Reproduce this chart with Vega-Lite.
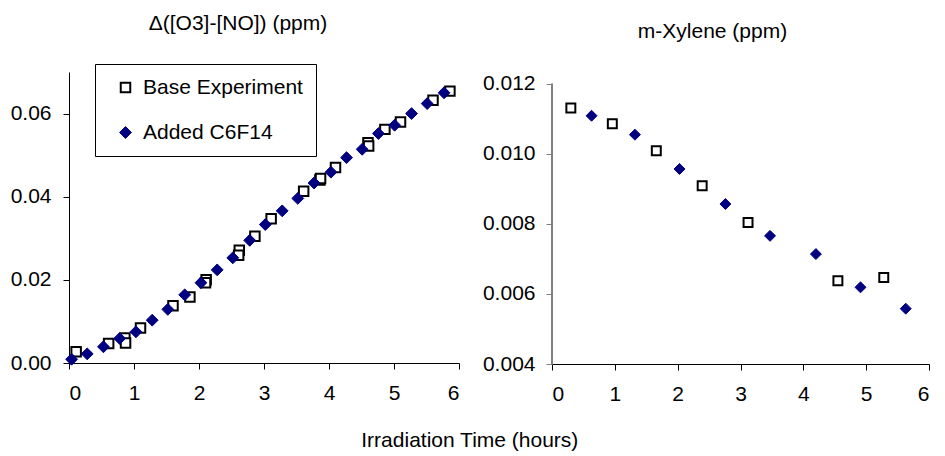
{
  "$schema": "https://vega.github.io/schema/vega-lite/v6.json",
  "padding": {"left": 10, "top": 12, "right": 4, "bottom": 4},
  "background": "white",
  "config": {
    "font": "Liberation Sans",
    "view": {"stroke": null},
    "axis": {"grid": false, "labelFontSize": 21, "labelColor": "black", "labelFont": "Liberation Sans", "tickColor": "black", "domainColor": "black", "tickSize": 6, "title": null},
    "title": {"font": "Liberation Sans", "fontWeight": "normal", "fontSize": 21, "color": "black"}
  },
  "title": {"text": "Irradiation Time (hours)", "orient": "bottom", "anchor": "middle", "offset": 26},
  "datasets": {
    "ozone": [
      {"time": 0.11, "value": 0.0027, "series": "Base Experiment"},
      {"time": 0.61, "value": 0.0047, "series": "Base Experiment"},
      {"time": 0.86, "value": 0.0060, "series": "Base Experiment"},
      {"time": 0.87, "value": 0.0048, "series": "Base Experiment"},
      {"time": 1.10, "value": 0.0084, "series": "Base Experiment"},
      {"time": 1.60, "value": 0.0138, "series": "Base Experiment"},
      {"time": 1.86, "value": 0.0159, "series": "Base Experiment"},
      {"time": 2.11, "value": 0.0200, "series": "Base Experiment"},
      {"time": 2.10, "value": 0.0193, "series": "Base Experiment"},
      {"time": 2.62, "value": 0.0271, "series": "Base Experiment"},
      {"time": 2.61, "value": 0.0259, "series": "Base Experiment"},
      {"time": 2.86, "value": 0.0305, "series": "Base Experiment"},
      {"time": 3.11, "value": 0.0347, "series": "Base Experiment"},
      {"time": 3.61, "value": 0.0413, "series": "Base Experiment"},
      {"time": 3.86, "value": 0.0440, "series": "Base Experiment"},
      {"time": 3.87, "value": 0.0444, "series": "Base Experiment"},
      {"time": 4.10, "value": 0.0470, "series": "Base Experiment"},
      {"time": 4.60, "value": 0.0530, "series": "Base Experiment"},
      {"time": 4.61, "value": 0.0522, "series": "Base Experiment"},
      {"time": 4.86, "value": 0.0562, "series": "Base Experiment"},
      {"time": 5.10, "value": 0.0580, "series": "Base Experiment"},
      {"time": 5.60, "value": 0.0632, "series": "Base Experiment"},
      {"time": 5.86, "value": 0.0654, "series": "Base Experiment"},
      {"time": 0.04, "value": 0.0009, "series": "Added C6F14"},
      {"time": 0.28, "value": 0.0022, "series": "Added C6F14"},
      {"time": 0.53, "value": 0.0039, "series": "Added C6F14"},
      {"time": 0.78, "value": 0.0059, "series": "Added C6F14"},
      {"time": 1.03, "value": 0.0075, "series": "Added C6F14"},
      {"time": 1.28, "value": 0.0103, "series": "Added C6F14"},
      {"time": 1.52, "value": 0.0129, "series": "Added C6F14"},
      {"time": 1.78, "value": 0.0164, "series": "Added C6F14"},
      {"time": 2.03, "value": 0.0193, "series": "Added C6F14"},
      {"time": 2.28, "value": 0.0224, "series": "Added C6F14"},
      {"time": 2.52, "value": 0.0253, "series": "Added C6F14"},
      {"time": 2.78, "value": 0.0295, "series": "Added C6F14"},
      {"time": 3.02, "value": 0.0333, "series": "Added C6F14"},
      {"time": 3.28, "value": 0.0366, "series": "Added C6F14"},
      {"time": 3.52, "value": 0.0396, "series": "Added C6F14"},
      {"time": 3.77, "value": 0.0433, "series": "Added C6F14"},
      {"time": 4.03, "value": 0.0459, "series": "Added C6F14"},
      {"time": 4.27, "value": 0.0494, "series": "Added C6F14"},
      {"time": 4.51, "value": 0.0514, "series": "Added C6F14"},
      {"time": 4.76, "value": 0.0552, "series": "Added C6F14"},
      {"time": 5.01, "value": 0.0572, "series": "Added C6F14"},
      {"time": 5.27, "value": 0.0600, "series": "Added C6F14"},
      {"time": 5.51, "value": 0.0624, "series": "Added C6F14"},
      {"time": 5.77, "value": 0.0650, "series": "Added C6F14"}
    ],
    "xylene": [
      {"time": 0.30, "value": 0.01131, "series": "Base Experiment"},
      {"time": 0.96, "value": 0.01086, "series": "Base Experiment"},
      {"time": 1.66, "value": 0.01009, "series": "Base Experiment"},
      {"time": 2.39, "value": 0.00909, "series": "Base Experiment"},
      {"time": 3.12, "value": 0.00804, "series": "Base Experiment"},
      {"time": 4.55, "value": 0.00638, "series": "Base Experiment"},
      {"time": 5.28, "value": 0.00647, "series": "Base Experiment"},
      {"time": 0.63, "value": 0.01109, "series": "Added C6F14"},
      {"time": 1.32, "value": 0.01055, "series": "Added C6F14"},
      {"time": 2.03, "value": 0.00957, "series": "Added C6F14"},
      {"time": 2.76, "value": 0.00857, "series": "Added C6F14"},
      {"time": 3.47, "value": 0.00766, "series": "Added C6F14"},
      {"time": 4.20, "value": 0.00714, "series": "Added C6F14"},
      {"time": 4.91, "value": 0.00619, "series": "Added C6F14"},
      {"time": 5.63, "value": 0.00558, "series": "Added C6F14"}
    ]
  },
  "spacing": 22,
  "resolve": {
    "scale": {"x": "independent", "y": "independent", "fill": "independent", "stroke": "independent", "shape": "independent", "size": "independent", "strokeWidth": "independent"},
    "legend": {"fill": "independent", "stroke": "independent", "shape": "independent", "size": "independent", "strokeWidth": "independent"}
  },
  "hconcat": [
    {
      "width": 390,
      "height": 291,
      "title": {"text": "Δ([O3]-[NO]) (ppm)", "anchor": "middle", "dx": -26, "offset": 30},
      "data": {"name": "ozone"},
      "mark": {"type": "point", "opacity": 1},
      "encoding": {
        "x": {"field": "time", "type": "quantitative", "scale": {"domain": [0, 6], "nice": false}, "axis": {"values": [0, 1, 2, 3, 4, 5, 6], "labelPadding": 13, "format": "d"}},
        "y": {"field": "value", "type": "quantitative", "scale": {"domain": [0, 0.07], "nice": false}, "axis": {"values": [0, 0.02, 0.04, 0.06], "format": ".2f", "labelPadding": 12}},
        "shape": {"field": "series", "type": "nominal", "scale": {"domain": ["Base Experiment", "Added C6F14"], "range": ["square", "diamond"]},
          "legend": {"orient": "none", "legendX": 26, "legendY": -8, "title": null, "strokeColor": "black", "fillColor": "white", "padding": 13, "symbolOffset": 7, "rowPadding": 23, "labelFontSize": 21, "labelFont": "Liberation Sans", "labelColor": "black", "labelOffset": 7, "labelLimit": 300, "symbolStrokeWidth": 2}},
        "fill": {"field": "series", "type": "nominal", "scale": {"domain": ["Base Experiment", "Added C6F14"], "range": ["white", "#000080"]}},
        "stroke": {"field": "series", "type": "nominal", "scale": {"domain": ["Base Experiment", "Added C6F14"], "range": ["black", "#000080"]}},
        "size": {"field": "series", "type": "nominal", "scale": {"domain": ["Base Experiment", "Added C6F14"], "range": [90, 140]}},
        "strokeWidth": {"field": "series", "type": "nominal", "scale": {"domain": ["Base Experiment", "Added C6F14"], "range": [2, 1]}}
      }
    },
    {
      "width": 377,
      "height": 292,
      "title": {"text": "m-Xylene (ppm)", "anchor": "middle", "dx": -28, "offset": 30},
      "data": {"name": "xylene"},
      "layer": [
        {
          "mark": {"type": "rule", "color": "#808080", "strokeWidth": 1},
          "encoding": {
            "x": {"datum": 0, "type": "quantitative"},
            "y": {"datum": 0.004, "type": "quantitative"},
            "y2": {"datum": 0.012}
          }
        },
        {
          "mark": {"type": "point", "opacity": 1},
          "encoding": {
            "x": {"field": "time", "type": "quantitative", "scale": {"domain": [0, 6], "nice": false}, "axis": {"values": [0, 1, 2, 3, 4, 5, 6], "labelPadding": 13, "format": "d"}},
            "y": {"field": "value", "type": "quantitative", "scale": {"domain": [0.004, 0.01234], "nice": false, "zero": false}, "axis": {"values": [0.004, 0.006, 0.008, 0.010, 0.012], "format": ".3f", "labelPadding": 11, "domain": false, "tickColor": "#808080"}},
            "shape": {"field": "series", "type": "nominal", "scale": {"domain": ["Base Experiment", "Added C6F14"], "range": ["square", "diamond"]}, "legend": null},
            "fill": {"field": "series", "type": "nominal", "scale": {"domain": ["Base Experiment", "Added C6F14"], "range": ["white", "#000080"]}, "legend": null},
            "stroke": {"field": "series", "type": "nominal", "scale": {"domain": ["Base Experiment", "Added C6F14"], "range": ["black", "#000080"]}, "legend": null},
            "size": {"field": "series", "type": "nominal", "scale": {"domain": ["Base Experiment", "Added C6F14"], "range": [80, 120]}, "legend": null},
            "strokeWidth": {"field": "series", "type": "nominal", "scale": {"domain": ["Base Experiment", "Added C6F14"], "range": [2, 1]}, "legend": null}
          }
        }
      ]
    }
  ]
}
